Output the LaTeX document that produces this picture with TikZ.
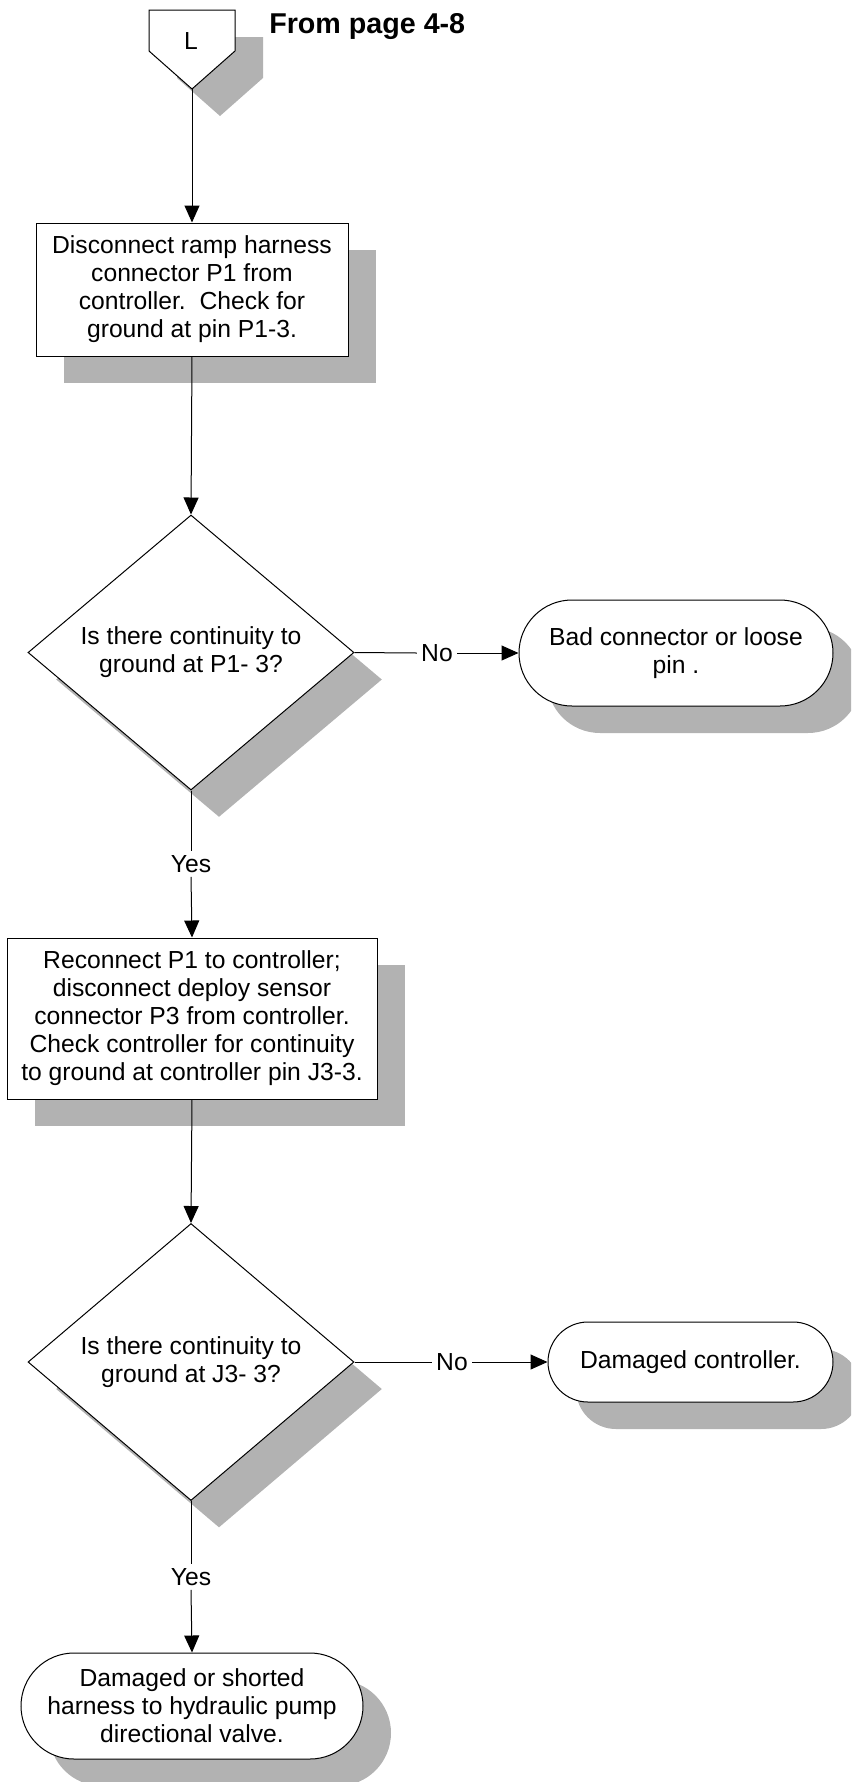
\documentclass[tikz,border=0pt]{standalone}
\usepackage{fontspec}
\setmainfont{Liberation Sans}
\usetikzlibrary{shapes.geometric,shapes.misc,shadows,arrows.meta}
\definecolor{shgray}{RGB}{178,178,178}
\tikzset{
  base/.style={draw=black, line width=0.75pt, fill=white, align=center, inner sep=0pt,
    font=\fontsize{18.5}{21}\selectfont,
    drop shadow={shadow xshift=21pt, shadow yshift=-20.25pt, fill=shgray, opacity=1}},
  procbox/.style={base, rectangle},
  decide/.style={base, diamond},
  term/.style={base, rounded rectangle, rounded rectangle arc length=180},
  lbl/.style={font=\fontsize{18.5}{21}\selectfont, inner sep=3pt},
  conn/.style={line width=0.75pt},
  arr/.style={conn, -{Triangle[length=12.75pt, width=11.25pt]}},
}
\begin{document}
\begin{tikzpicture}[x=0.75pt, y=-0.75pt]
\useasboundingbox (0,0) rectangle (851,1782);
\clip (0,0) rectangle (851,1782);
% off-page connector
\fill[shgray] (177,37) -- (263,37) -- (263,78) -- (220,116) -- (177,78) -- cycle;
\draw[conn, fill=white] (149,10) -- (235,10) -- (235,51) -- (192,89) -- (149,51) -- cycle;
\coordinate (ltip) at (192,89);
\node[font=\fontsize{18.5}{21}\selectfont, anchor=base] (L) at (191,49) {L};
\node[font=\fontsize{21.5}{25}\bfseries, anchor=base west, inner sep=0pt] (from) at (269,33) {From page 4-8};
% nodes
\node[procbox, minimum width={312*0.75pt}, minimum height={133*0.75pt}] (b1) at (192,289.5)
  {Disconnect ramp harness\\connector P1 from\\controller.\ \ Check for\\ground at pin P1-3.};
\node[decide, minimum width={326*0.75pt}, minimum height={275*0.75pt}] (d1) at (191,652.5)
  {Is there continuity to\\ground at P1- 3?};
\node[term, minimum width={314*0.75pt}, minimum height={106*0.75pt}] (t1) at (676,653)
  {Bad connector or loose\\pin .};
\node[procbox, minimum width={370*0.75pt}, minimum height={161*0.75pt}] (b2) at (192,1018.5)
  {Reconnect P1 to controller;\\disconnect deploy sensor\\connector P3 from controller.\\Check controller for continuity\\to ground at controller pin J3-3.};
\node[decide, minimum width={326*0.75pt}, minimum height={277*0.75pt}] (d2) at (191,1362)
  {Is there continuity to\\ground at J3- 3?};
\node[term, minimum width={285*0.75pt}, minimum height={80*0.75pt}] (t2) at (690.5,1362)
  {Damaged controller.};
\node[term, minimum width={342*0.75pt}, minimum height={106*0.75pt}] (t3) at (192,1706)
  {Damaged or shorted\\harness to hydraulic pump\\directional valve.};
% labels
\node[lbl] (no1) at (437,653) {No};
\node[lbl] (yes1) at (191,864) {Yes};
\node[lbl] (no2) at (452,1362) {No};
\node[lbl] (yes2) at (191,1577) {Yes};
% connectors
\draw[arr] (ltip) -- (b1.north);
\draw[arr] (b1.south) -- (d1.north);
\draw[conn] (d1.east) -- (no1.west);
\draw[arr] (no1.east) -- (t1.west);
\draw[conn] (d1.south) -- (yes1.north);
\draw[arr] (yes1.south) -- (b2.north);
\draw[arr] (b2.south) -- (d2.north);
\draw[conn] (d2.east) -- (no2.west);
\draw[arr] (no2.east) -- (t2.west);
\draw[conn] (d2.south) -- (yes2.north);
\draw[arr] (yes2.south) -- (t3.north);
\end{tikzpicture}
\end{document}
